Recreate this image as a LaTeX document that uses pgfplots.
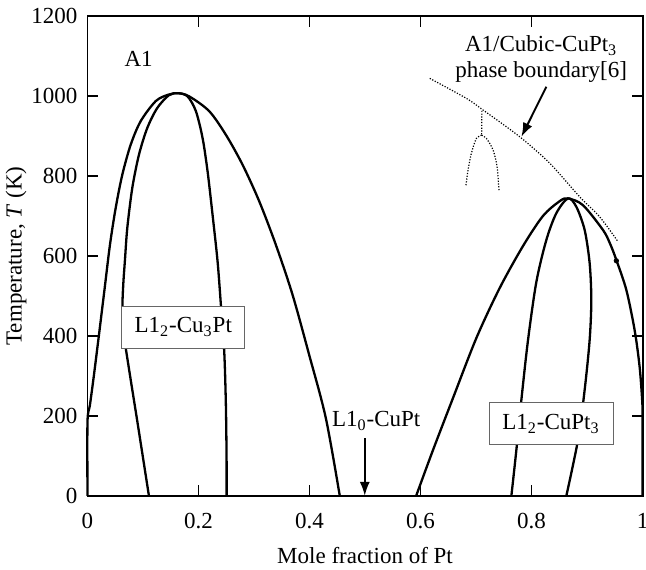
\documentclass[border=0pt]{standalone}
\usepackage{fontspec}
\setmainfont{Liberation Serif}
\usepackage{pgfplots}
\pgfplotsset{compat=1.18}
\usetikzlibrary{arrows.meta}
\begin{document}
\fontsize{11.5}{14}\selectfont
\begin{tikzpicture}
\begin{axis}[
  scale only axis, width=277.6pt, height=240pt,
  xmin=0, xmax=1, ymin=0, ymax=1200,
  xtick={0,0.2,0.4,0.6,0.8,1}, xticklabels={0,0.2,0.4,0.6,0.8,1},
  ytick={0,200,400,600,800,1000,1200},
  /pgf/number format/assume math mode=true,
  /pgf/number format/1000 sep={},
  tick align=inside, major tick length=5.5pt,
  axis line style={line width=0.9pt},
  every tick/.style={line width=0.9pt, black},
  xticklabel style={yshift=-4.5pt},
  yticklabel style={xshift=-1pt},
  xlabel={Mole fraction of Pt},
  ylabel={Temperature, \textit{T} (K)},
  xlabel style={at={(axis description cs:0.5,0)}, anchor=center, yshift=-30pt},
  ylabel style={at={(axis description cs:0,0.5)}, anchor=center, yshift=35.75pt},
  clip=false,
]
\coordinate (ll) at (rel axis cs:0,0);
\coordinate (ur) at (rel axis cs:1,1);
% left dome, outer
\addplot[black, line width=1.15pt, smooth, tension=0.5] coordinates {
(0,0) (0,185) (0.0045,228) (0.0117,303) (0.0207,403) (0.031,520) (0.0405,628)
(0.0508,720) (0.0627,803) (0.0778,878) (0.0958,937) (0.1228,987) (0.145,1003)
(0.163,1007) (0.1833,999) (0.2193,962) (0.2493,903) (0.2794,828) (0.3093,737)
(0.3393,628) (0.3694,503) (0.3993,353) (0.4293,195) (0.4545,0)};
% left dome, inner
\addplot[black, line width=1.15pt, smooth, tension=0.5] coordinates {
(0.1107,0) (0.0905,180) (0.0745,320) (0.066,400) (0.063,470) (0.0645,530)
(0.0675,590) (0.0717,670) (0.0807,770) (0.0927,853) (0.1077,920) (0.1257,970)
(0.1467,1002) (0.163,1007) (0.1803,999) (0.1953,962) (0.2073,895) (0.2163,812)
(0.2253,703) (0.2343,587) (0.2403,478) (0.2463,362) (0.2493,228) (0.2506,87)
(0.2506,0)};
% right dome, outer
\addplot[black, line width=1.15pt, smooth, tension=0.5] coordinates {
(0.592,0) (0.6225,115) (0.6585,245) (0.7006,395) (0.7426,520) (0.7846,625)
(0.8205,700) (0.8506,737) (0.8656,744) (0.8926,727) (0.9286,665) (0.941,632)
(0.9527,590) (0.9707,515) (0.9856,415) (0.9946,323) (0.9995,232) (1,180) (1,0)};
% right dome, inner
\addplot[black, line width=1.15pt, smooth, tension=0.5] coordinates {
(0.7636,0) (0.7726,115) (0.7816,240) (0.7936,390) (0.8086,535) (0.8266,640)
(0.8446,707) (0.8656,744) (0.8806,723) (0.8956,665) (0.9046,582) (0.9076,490)
(0.9046,390) (0.8956,265) (0.8836,140) (0.8626,0)};
\addplot[only marks, mark=*, mark size=1.1pt, black] coordinates {(0.9527,588)};
% dotted phase boundary
\addplot[black, line width=0.6pt, dash pattern=on 0.6pt off 0.8pt, smooth] coordinates {
(0.6166,1044) (0.6826,994) (0.7125,965) (0.7786,898) (0.8326,832) (0.8866,748)
(0.9226,698) (0.9556,636)};
\addplot[black, line width=0.6pt, dash pattern=on 0.6pt off 0.8pt] coordinates {
(0.7105,963) (0.7100,902)};
\addplot[black, line width=0.6pt, dash pattern=on 0.6pt off 0.8pt, smooth] coordinates {
(0.7100,902) (0.7006,894) (0.6916,857) (0.6856,815) (0.6814,773)};
\addplot[black, line width=0.6pt, dash pattern=on 0.6pt off 0.8pt, smooth] coordinates {
(0.7100,902) (0.7186,894) (0.7306,865) (0.7378,823) (0.7414,761)};
% annotations
\node at (axis cs:0.092,1092) {A1};
\node[align=center, inner sep=0pt] at (axis cs:0.8173,1092) {A1/Cubic-CuPt\textsubscript{3}\\[-1pt]phase boundary[6]};
\draw[line width=1pt, -{Latex[length=7pt,width=5pt]}] (axis cs:0.8266,1023) -- (axis cs:0.7816,898);
\node at (axis cs:0.52,187) {L1\textsubscript{0}-CuPt};
\draw[line width=1pt, -{Latex[length=7pt,width=5pt]}] (axis cs:0.4995,144) -- (axis cs:0.4995,0);
\node[draw=black!60, line width=0.5pt, fill=white, minimum width=61.5pt, minimum height=21pt, inner sep=1pt]
  at (axis cs:0.1725,422) {L1\textsubscript{2}-Cu\textsubscript{3}Pt};
\node[draw=black!60, line width=0.5pt, fill=white, minimum width=62pt, minimum height=21pt, inner sep=1pt]
  at (axis cs:0.835,180) {L1\textsubscript{2}-CuPt\textsubscript{3}};
\end{axis}
\pgfresetboundingbox
\path ([xshift=-43.75pt,yshift=-37pt]ll) rectangle ([xshift=1.7pt,yshift=8pt]ur);
\end{tikzpicture}
\end{document}
